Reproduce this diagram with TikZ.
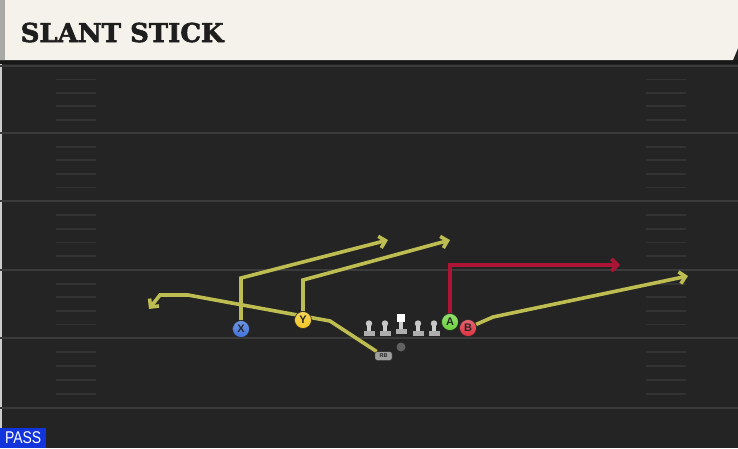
\documentclass[tikz,border=0pt]{standalone}
\usepackage{fontspec}
\setmainfont{Liberation Sans}
\newfontfamily\titlefont{DejaVu Serif}[BoldFeatures={FakeBold=2.2}]
\usepackage{xcolor}
\usepackage{tikz}
\usetikzlibrary{arrows.meta, positioning, calc}

\definecolor{turf}{HTML}{242424}
\definecolor{band}{HTML}{171717}
\definecolor{yardline}{HTML}{3B3B3B}
\definecolor{hashline}{HTML}{333333}
\definecolor{cream}{HTML}{F5F2EB}
\definecolor{stripe}{HTML}{A9A9A6}
\definecolor{titleink}{HTML}{1E1E1E}
\definecolor{passblue}{HTML}{1234DD}
\definecolor{olive}{HTML}{BDBD52}
\definecolor{crimson}{HTML}{AD1536}
\definecolor{xblue}{HTML}{3F72DA}
\definecolor{yyellow}{HTML}{F2C623}
\definecolor{agreen}{HTML}{6DD23C}
\definecolor{bred}{HTML}{DE3140}
\definecolor{lineman}{HTML}{CDCDCD}

\pgfdeclarelayer{under}
\pgfsetlayers{under,main}

\begin{document}
\begin{tikzpicture}[x=1pt, y=-1pt,
    >={Straight Barb[length=6pt, width=12pt]},
    route/.style={line width=3.6pt, line cap=butt, ->},
    player/.style={circle, draw=black!85, line width=0.6pt, minimum size=17pt, inner sep=0pt,
      font=\bfseries\fontsize{11}{11}\selectfont, text=black!85}]
  \useasboundingbox (0,0) rectangle (738,448);

  % players and line
  \node[player, top color=xblue!75!white, bottom color=xblue] (X) at (241,329) {X};
  \node[player, top color=yyellow!75!white, bottom color=yyellow] (Y) at (303,320) {Y};
  \node[player, top color=agreen!75!white, bottom color=agreen] (A) at (450,322) {A};
  \node[player, top color=bred!75!white, bottom color=bred] (B) at (468,328) {B};
  \node[circle, fill=black!62, minimum size=9pt, inner sep=0pt] (ball) at (401,347) {};
  \node[draw=black!80, fill=black!38, rounded corners=2pt, minimum width=17pt, minimum height=8.5pt,
    inner sep=0pt, font=\bfseries\fontsize{5.5}{5.5}\selectfont, text=black!85] (RB) at (383.5,356) {RB};

  \foreach \lx in {369,385,418,434} {
    \fill[lineman] ({\lx-1.8},324) rectangle ({\lx+1.8},332);
    \fill[lineman!85!black] ({\lx-5.5},331) rectangle ({\lx+5.5},336);
    \fill[lineman!110!white] (\lx,323.5) circle (3.2);
  }
  \fill[lineman] (399,321) rectangle (403,329);
  \fill[lineman!85!black] (395.5,328.5) rectangle (406.5,333.5);
  \fill[white] (397,314) rectangle (405,322);

  % route corners and ends
  \coordinate (xc) at (241,278);
  \coordinate (xe) at (388,240);
  \coordinate (yc) at (303,280);
  \coordinate (ye) at (450,240);
  \coordinate (r1) at (330,321);
  \coordinate (r2) at (188,295);
  \coordinate (r3) at (160,295);
  \coordinate (re) at (149,309);
  \coordinate (ac) at (450,265);
  \coordinate (ae) at (620,265);
  \coordinate (b1) at (493,317);
  \coordinate (be) at (688,276);

  \begin{pgfonlayer}{under}
    % field
    \fill[turf] (0,0) rectangle (738,448);
    \draw[black!20, line width=1.5pt] (0.8,64) -- (0.8,448);
    \foreach \ya/\yb in {66/133, 133/201, 201/270, 270/338, 338/408} {
      \draw[yardline, line width=2.2pt] (0,\ya) -- (738,\ya);
      \foreach \k in {1,...,4} {
        \draw[hashline, line width=1.8pt] (56,{\ya+\k*(\yb-\ya)/5}) -- (96,{\ya+\k*(\yb-\ya)/5});
        \draw[hashline, line width=1.8pt] (646,{\ya+\k*(\yb-\ya)/5}) -- (686,{\ya+\k*(\yb-\ya)/5});
      }
    }
    \draw[yardline, line width=2.2pt] (0,408) -- (738,408);

    % header
    \fill[band] (0,60) rectangle (738,64);
    \fill[cream] (0,0) -- (738,0) -- (738,48) -- (733,60) -- (0,60) -- cycle;
    \fill[stripe] (0,0) rectangle (5,60);

    % routes
    \draw[route, olive] (X) -- (xc) -- (xe);
    \draw[route, olive] (Y) -- (yc) -- (ye);
    \draw[route, olive] (RB) -- (r1) -- (r2) -- (r3) -- (re);
    \draw[route, crimson] (A) -- (ac) -- (ae);
    \draw[route, olive] (B) -- (b1) -- (be);
  \end{pgfonlayer}

  \node[anchor=base west, inner sep=0pt, text=titleink,
    font=\titlefont\bfseries\fontsize{26}{26}\selectfont] (title) at (20.5,42) {SLANT STICK};
  \node[anchor=south west, fill=passblue, text=white, minimum width=46pt, minimum height=20pt,
    inner sep=0pt, font=\fontsize{17}{17}\selectfont] (mode) at (0,448) {\scalebox{0.82}[1]{PASS}};
\end{tikzpicture}
\end{document}
